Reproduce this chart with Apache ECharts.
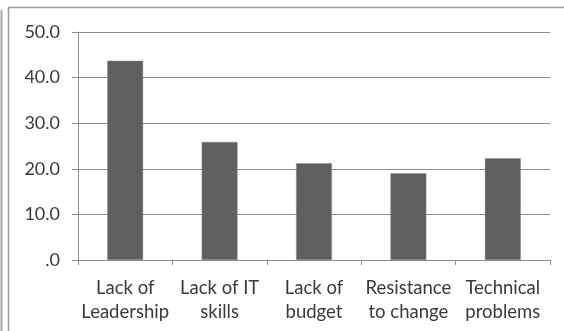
<!DOCTYPE html>
<html>
<head>
<meta charset="utf-8">
<style>
html,body{margin:0;padding:0;background:#fff;}
#c{width:564px;height:331px;}
</style>
<script src="https://cdn.jsdelivr.net/npm/echarts@6/dist/echarts.min.js"></script>
</head>
<body>
<div id="c"></div>
<script>
const categories = ['Lack of\nLeadership', 'Lack of IT\nskills', 'Lack of\nbudget', 'Resistance\nto change', 'Technical\nproblems'];
const values = [43.7, 25.9, 21.2, 19.0, 22.3];
const yTickValues = [0, 10, 20, 30, 40, 50];
const yTickLabels = ['.0', '10.0', '20.0', '30.0', '40.0', '50.0'];

const chart = echarts.init(document.getElementById('c'), null, {renderer: 'canvas'});
const font = 'Lato, "Open Sans", sans-serif';
chart.setOption({
  animation: false,
  backgroundColor: '#ffffff',
  graphic: [
    {type: 'rect', shape: {x: 8.5, y: 7.5, width: 600, height: 400}, style: {fill: 'none', stroke: '#9a9a9a', lineWidth: 1.5}, silent: true},
    {type: 'line', shape: {x1: 1.5, y1: 10, x2: 1.5, y2: 331}, style: {stroke: '#a8a8a8', lineWidth: 2}, silent: true}
  ],
  grid: {left: 78, right: 14, top: 32, bottom: 71},
  xAxis: {
    type: 'category',
    data: categories,
    axisLine: {lineStyle: {color: '#8c8c8c', width: 1}},
    axisTick: {show: true, length: 5, alignWithLabel: false, lineStyle: {color: '#8c8c8c'}},
    axisLabel: {color: '#3a3a3a', fontSize: 18.5, fontFamily: font, lineHeight: 24, margin: 16, interval: 0}
  },
  yAxis: {
    type: 'value',
    min: 0, max: 50, interval: 10,
    axisLine: {show: true, lineStyle: {color: '#8c8c8c', width: 1}},
    axisTick: {show: true, length: 6, lineStyle: {color: '#8c8c8c'}},
    splitLine: {show: true, lineStyle: {color: '#8c8c8c', width: 1}},
    axisLabel: {
      color: '#3a3a3a', fontSize: 18, fontFamily: font, margin: 18,
      formatter: function (v) { const i = yTickValues.indexOf(v); return i >= 0 ? yTickLabels[i] : ''; }
    }
  },
  series: [{
    type: 'bar',
    data: values,
    barWidth: '38%',
    itemStyle: {color: '#5f5f5f', borderColor: '#8a8a8a', borderWidth: 0.5}
  }]
});
</script>
</body>
</html>
